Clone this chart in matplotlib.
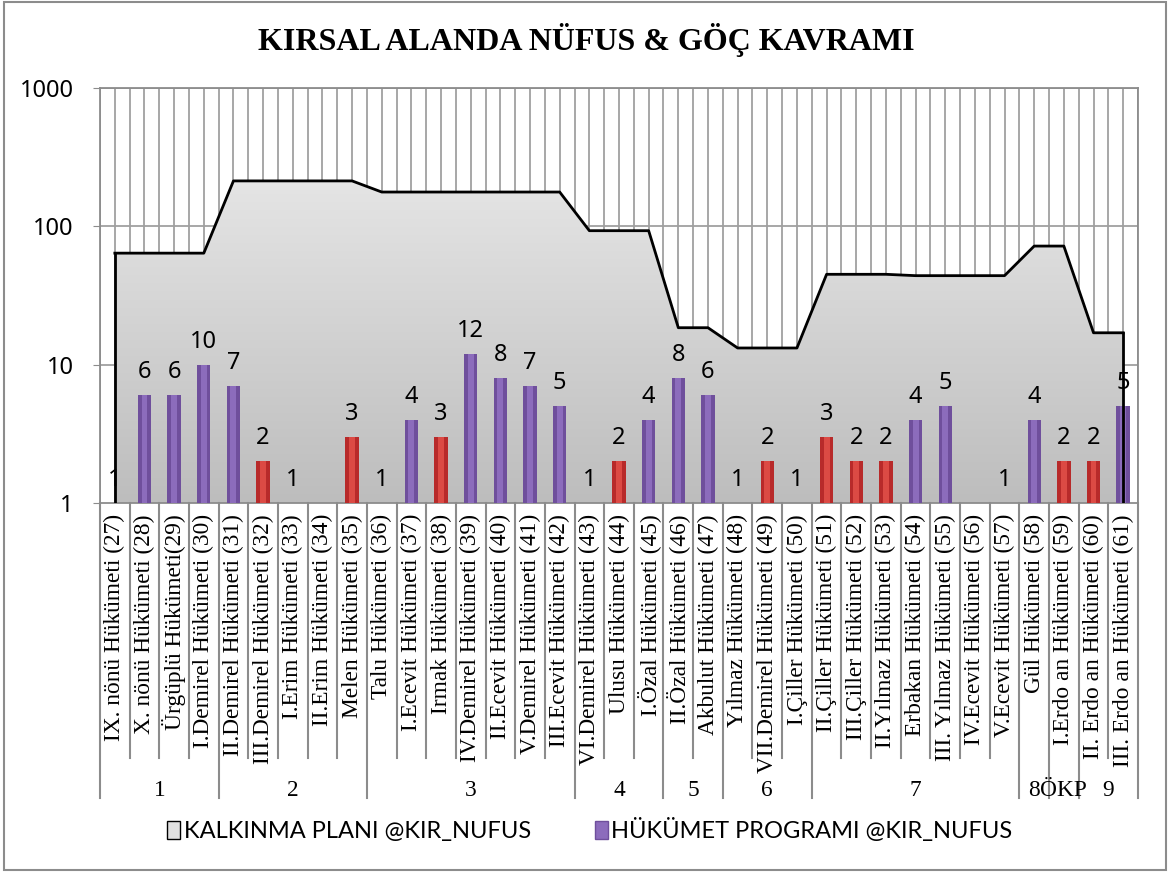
import numpy as np
import matplotlib
matplotlib.use("Agg")
import matplotlib.pyplot as plt
import matplotlib.transforms as mtransforms
from matplotlib.patches import Patch, Rectangle
from matplotlib.colors import LinearSegmentedColormap

# hükümetler (kategori etiketleri)
hukumetler = [
    "IX. nönü Hükümeti (27)", "X. nönü Hükümeti (28)", "Ürgüplü Hükümeti(29)",
    "I.Demirel Hükümeti (30)", "II.Demirel Hükümeti (31)", "III.Demirel Hükümeti (32)",
    "I.Erim Hükümeti (33)", "II.Erim Hükümeti (34)", "Melen Hükümeti (35)",
    "Talu Hükümeti (36)", "I.Ecevit Hükümeti (37)", "Irmak Hükümeti (38)",
    "IV.Demirel Hükümeti (39)", "II.Ecevit Hükümeti (40)", "V.Demirel Hükümeti (41)",
    "III.Ecevit Hükümeti (42)", "VI.Demirel Hükümeti (43)", "Ulusu Hükümeti (44)",
    "I.Özal Hükümeti (45)", "II.Özal Hükümeti (46)", "Akbulut Hükümeti (47)",
    "Yılmaz Hükümeti (48)", "VII.Demirel Hükümeti (49)", "I.Çiller Hükümeti (50)",
    "II.Çiller Hükümeti (51)", "III.Çiller Hükümeti (52)", "II.Yılmaz Hükümeti (53)",
    "Erbakan Hükümeti (54)", "III. Yılmaz Hükümeti (55)", "IV.Ecevit Hükümeti (56)",
    "V.Ecevit Hükümeti (57)", "Gül Hükümeti (58)", "I.Erdo an Hükümeti (59)",
    "II. Erdo an Hükümeti (60)", "III. Erdo an Hükümeti (61)",
]

# kalkınma planı değerleri (alan)
kalkinma_plani = [64, 64, 64, 64,
                  213, 213, 213, 213, 213,
                  177, 177, 177, 177, 177, 177, 177,
                  93, 93, 93,
                  18.5, 18.5,
                  13.2, 13.2, 13.2,
                  45, 45, 45, 44, 44, 44, 44,
                  72,
                  72,
                  17, 17]

# hükümet programı değerleri (çubuk), None = veri yok
hukumet_programi = [1, 6, 6, 10, 7, 2, 1, None, 3, 1, 4, 3, 12, 8, 7, 5, 1, 2, 4,
                    8, 6, 1, 2, 1, 3, 2, 2, 4, 5, None, 1, 4, 2, 2, 5]

# plan grupları
plan_adlari = ["1", "2", "3", "4", "5", "6", "7", "8", "ÖKP", "9"]
plan_boyutlari = [4, 5, 7, 3, 2, 3, 7, 1, 1, 2]

MOR = "#6f4f9c"
MOR_ACIK = "#8c6cbc"
KIRMIZI = "#b82a2a"
KIRMIZI_ACIK = "#dc4a44"
GRI = "#8c8c8c"
SANS = ["Noto Sans", "DejaVu Sans"]
SERIF = ["Liberation Serif", "DejaVu Serif"]

fig = plt.figure(figsize=(11.69, 8.72), dpi=100)
ax = fig.add_axes([100 / 1169, 369 / 872, 1038 / 1169, 415 / 872])

x = np.arange(len(hukumetler))
ax.set_yscale("log")
ax.set_xlim(-0.5, len(x) - 0.5)
ax.set_ylim(1, 1000)
ax.set_autoscale_on(False)

# ızgara
for xv in np.arange(-0.5, len(x), 0.5):
    ax.axvline(xv, color="#a0a0a0", lw=1.3, zorder=1)
for yv in [10, 100, 1000]:
    ax.axhline(yv, color="#a0a0a0", lw=1.3, zorder=1)

# alan (gradyan dolgu)
poly = ax.fill_between(x, kalkinma_plani, 1, facecolor="none", edgecolor="none", zorder=2)
cmap = LinearSegmentedColormap.from_list("gr", ["#bdbdbd", "#f0f0f0"])
grad = np.linspace(0, 1, 256).reshape(-1, 1)
im = ax.imshow(grad, extent=[0, 1, 0, 1], transform=ax.transAxes, origin="lower",
               aspect="auto", cmap=cmap, zorder=2)
im.set_clip_path(poly.get_paths()[0], transform=ax.transData)
ax.plot(x, kalkinma_plani, color="black", lw=2, zorder=3)
ax.plot([x[0], x[0]], [1, kalkinma_plani[0]], color="black", lw=2, zorder=3)
ax.plot([x[-1], x[-1]], [1, kalkinma_plani[-1]], color="black", lw=2, zorder=6)

# çubuklar
for xi, v in zip(x, hukumet_programi):
    if v is None:
        continue
    koyu, acik = (MOR, MOR_ACIK) if v >= 4 else (KIRMIZI, KIRMIZI_ACIK)
    ax.bar(xi, v - 1, bottom=1, width=0.45, color=koyu, zorder=4)
    ax.bar(xi, v - 1, bottom=1, width=0.2, color=acik, zorder=4)
    ax.annotate(str(v), (xi, v), xytext=(0, 8), textcoords="offset points",
                ha="center", va="bottom", fontsize=17, family=SANS, zorder=7)

# eksenler
ax.set_yticks([1, 10, 100, 1000])
ax.set_yticklabels(["1", "10", "100", "1000"], fontsize=17, family=SANS)
ax.yaxis.set_minor_locator(matplotlib.ticker.NullLocator())
ax.tick_params(axis="y", length=5, color=GRI, pad=14)
ax.set_xticks(x)
ax.set_xticklabels(hukumetler, rotation=90, fontsize=16.8, family=SERIF)
ax.tick_params(axis="x", length=0, pad=8)
for s in ax.spines.values():
    s.set_color(GRI)
    s.set_linewidth(1.3)

# kategori tablosu çizgileri
tr = mtransforms.blended_transform_factory(ax.transData, fig.transFigure)
y_ax = 369 / 872
sinirlar = np.concatenate([[0], np.cumsum(plan_boyutlari)]) - 0.5
for b in np.arange(-0.5, len(x), 1.0):
    alt = 74 / 872 if np.any(np.isclose(sinirlar, b)) else 114 / 872
    ax.plot([b, b], [y_ax, alt], transform=tr, color=GRI, lw=1.5, clip_on=False)
for ad, bas, son in zip(plan_adlari, sinirlar[:-1], sinirlar[1:]):
    fig.text((bas + son) / 2, 82 / 872, ad, transform=tr, fontsize=16.8, family=SERIF,
             ha="center", va="center")

# başlık
fig.text(586 / 1169, 1 - 40 / 872, "KIRSAL ALANDA NÜFUS & GÖÇ KAVRAMI", fontsize=23,
         weight="bold", family=SERIF, ha="center", va="center")

# lejant
handles = [Patch(facecolor="#e0e0e0", edgecolor="black", lw=1),
           Patch(facecolor=MOR_ACIK, edgecolor=MOR)]
fig.legend(handles, ["KALKINMA PLANI @KIR_NUFUS", "HÜKÜMET PROGRAMI @KIR_NUFUS"],
           loc="center", bbox_to_anchor=(590 / 1169, 42 / 872), ncol=2, frameon=False,
           prop={"family": ["Lato", "DejaVu Sans"], "size": 17},
           handlelength=0.55, handleheight=0.8, handletextpad=0.15, columnspacing=2.7)

fig.patches.append(Rectangle((4 / 1169, 2 / 872), 1162 / 1169, 868 / 872,
                             transform=fig.transFigure, fill=False, edgecolor=GRI, lw=1.5))

fig.savefig("out.png", dpi=100)
